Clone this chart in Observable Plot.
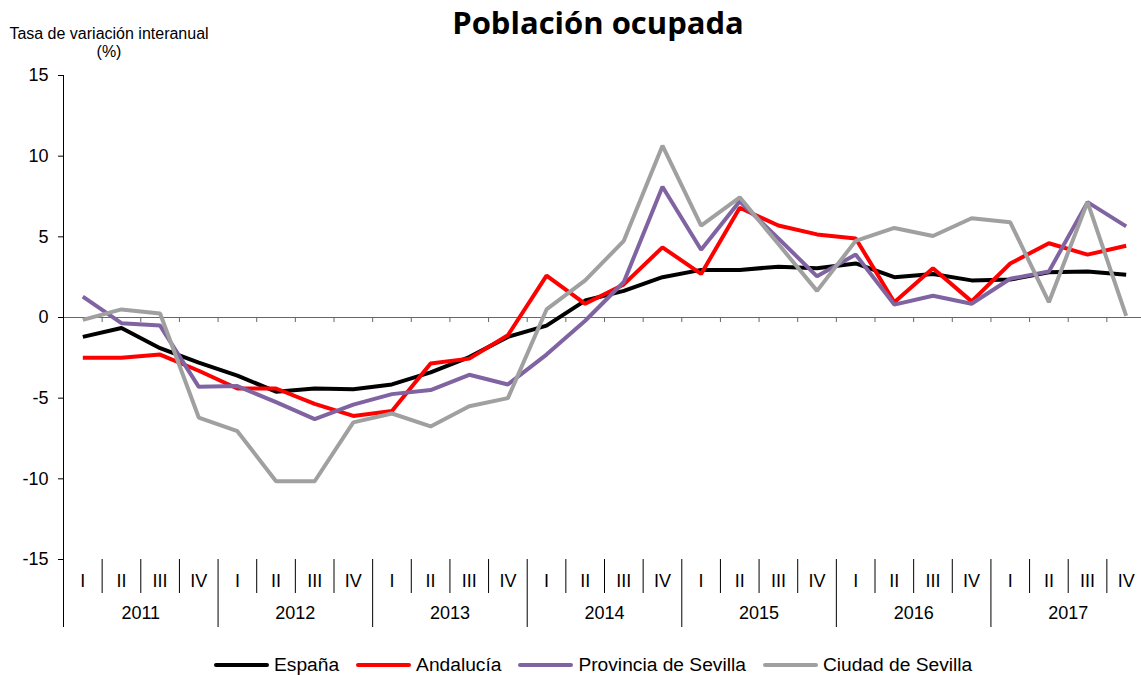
<!DOCTYPE html>
<html>
<head>
<meta charset="utf-8">
<script src="https://cdn.jsdelivr.net/npm/d3@7"></script>
<script src="https://cdn.jsdelivr.net/npm/@observablehq/plot@0.6"></script>
<style>
  body { margin: 0; background: #fff; }
  #wrap { position: relative; width: 1141px; height: 675px; overflow: hidden; font-family: "Liberation Sans", Arial, sans-serif; color: #000; }
  #chart { position: absolute; left: 0; top: 0; }
  #title { position: absolute; left: 598px; top: 7px; transform: translateX(-50%); white-space: nowrap;
           font-family: "Open Sans", sans-serif; font-weight: 700; font-size: 31px; line-height: 31px; }
  #ylabel { position: absolute; left: 8px; top: 25px; width: 202px; text-align: center; font-size: 16px; line-height: 18px; white-space: nowrap; }
  #legend { position: absolute; left: 214px; top: 655px; display: flex; align-items: center; gap: 17px; font-size: 19.2px; line-height: 19px; white-space: nowrap; }
  .item { display: flex; align-items: center; }
  .swatch { width: 55px; height: 4px; border-radius: 2px; margin-right: 5px; }
</style>
</head>
<body>
<div id="wrap">
  <div id="chart"></div>
  <div id="title">Población ocupada</div>
  <div id="ylabel">Tasa de variación interanual<br>(%)</div>
  <div id="legend"></div>
</div>
<script>
// ---- Data ----
const years = [2011, 2012, 2013, 2014, 2015, 2016, 2017];
const quarterLabels = ["I", "II", "III", "IV"];
const seriesNames = ["España", "Andalucía", "Provincia de Sevilla", "Ciudad de Sevilla"];
const seriesColors = ["#000000", "#FF0000", "#8064A2", "#A0A0A0"];

const espana = [-1.2, -0.65, -1.9, -2.8, -3.6, -4.6, -4.4, -4.45, -4.15, -3.4, -2.45, -1.2,
  -0.5, 1.05, 1.65, 2.5, 2.95, 2.95, 3.15, 3.05, 3.35, 2.5, 2.7, 2.3, 2.35, 2.8, 2.85, 2.65];
const andalucia = [-2.5, -2.5, -2.3, -3.3, -4.4, -4.4, -5.35, -6.1, -5.8, -2.85, -2.55, -1.1,
  2.6, 0.85, 2.05, 4.35, 2.7, 6.8, 5.7, 5.15, 4.9, 0.95, 3.05, 1.0, 3.35, 4.6, 3.9, 4.45];
const provincia = [1.3, -0.35, -0.5, -4.3, -4.25, -5.25, -6.3, -5.4, -4.75, -4.5, -3.55, -4.15,
  -2.3, -0.2, 2.2, 8.1, 4.2, 7.2, 4.9, 2.55, 3.9, 0.8, 1.35, 0.85, 2.4, 2.85, 7.15, 5.65];
const ciudad = [-0.15, 0.5, 0.25, -6.2, -7.05, -10.15, -10.15, -6.5, -5.95, -6.75, -5.5, -5.0,
  0.5, 2.3, 4.75, 10.65, 5.7, 7.45, 4.55, 1.65, 4.75, 5.55, 5.05, 6.15, 5.9, 0.95, 7.15, 0.1];
const yTicks = [-15, -10, -5, 0, 5, 10, 15];

// ---- Build table ----
const allValues = [espana, andalucia, provincia, ciudad];
const nQ = years.length * quarterLabels.length;
const rows = seriesNames.flatMap((name, s) => allValues[s].map((v, i) => ({ i, v, name })));
const quarterIdx = d3.range(nQ);
const boundaries = d3.range(nQ + 1).map(k => k - 0.5);
const yearBounds = boundaries.filter((b, k) => k % 4 === 0);
const quarterBounds = boundaries.filter((b, k) => k % 4 !== 0);
const yearCenters = years.map((y, k) => k * 4 + 1.5);

const chart = Plot.plot({
  width: 1141,
  height: 675,
  marginTop: 75,
  marginBottom: 116,
  marginLeft: 63,
  marginRight: 0,
  x: { type: "linear", domain: [-0.5, nQ - 0.5], range: [63, 1145] },
  y: { domain: [-15, 15], range: [559, 75] },
  color: { domain: seriesNames, range: seriesColors },
  style: { fontFamily: "Liberation Sans, Arial, sans-serif", color: "#000", background: "transparent", overflow: "visible" },
  marks: [
    Plot.ruleY([0], { stroke: "#666", strokeWidth: 1.2 }),
    Plot.ruleX(quarterIdx.slice(1).map(k => k - 0.5), { x: d => d, y1: 0, y2: 0, insetBottom: -5, stroke: "#666" }),
    Plot.ruleX([-0.5], { stroke: "#000" }),
    Plot.axisY({ ticks: yTicks, tickSize: 5, tickPadding: 10, tickFormat: d => String(d), fontSize: 18, label: null }),
    Plot.axisX({ ticks: quarterBounds, tickSize: 34, tickFormat: () => "", label: null }),
    Plot.axisX({ ticks: yearBounds, tickSize: 68, tickFormat: () => "", label: null }),
    Plot.axisX({ ticks: quarterIdx, tickSize: 0, tickPadding: 15, tickFormat: i => quarterLabels[i % 4], fontSize: 18, label: null }),
    Plot.axisX({ ticks: yearCenters, tickSize: 0, tickPadding: 47, tickFormat: d => String(years[(d - 1.5) / 4]), fontSize: 18, label: null }),
    Plot.line(rows, { x: "i", y: "v", z: "name", stroke: "name", strokeWidth: 4, strokeLinejoin: "miter", strokeLinecap: "butt" })
  ]
});
document.getElementById("chart").appendChild(chart);

// ---- Legend ----
const legend = document.getElementById("legend");
seriesNames.forEach((name, s) => {
  const item = document.createElement("div");
  item.className = "item";
  const sw = document.createElement("span");
  sw.className = "swatch";
  sw.style.background = seriesColors[s];
  const tx = document.createElement("span");
  tx.textContent = name;
  item.appendChild(sw);
  item.appendChild(tx);
  legend.appendChild(item);
});
</script>
</body>
</html>
